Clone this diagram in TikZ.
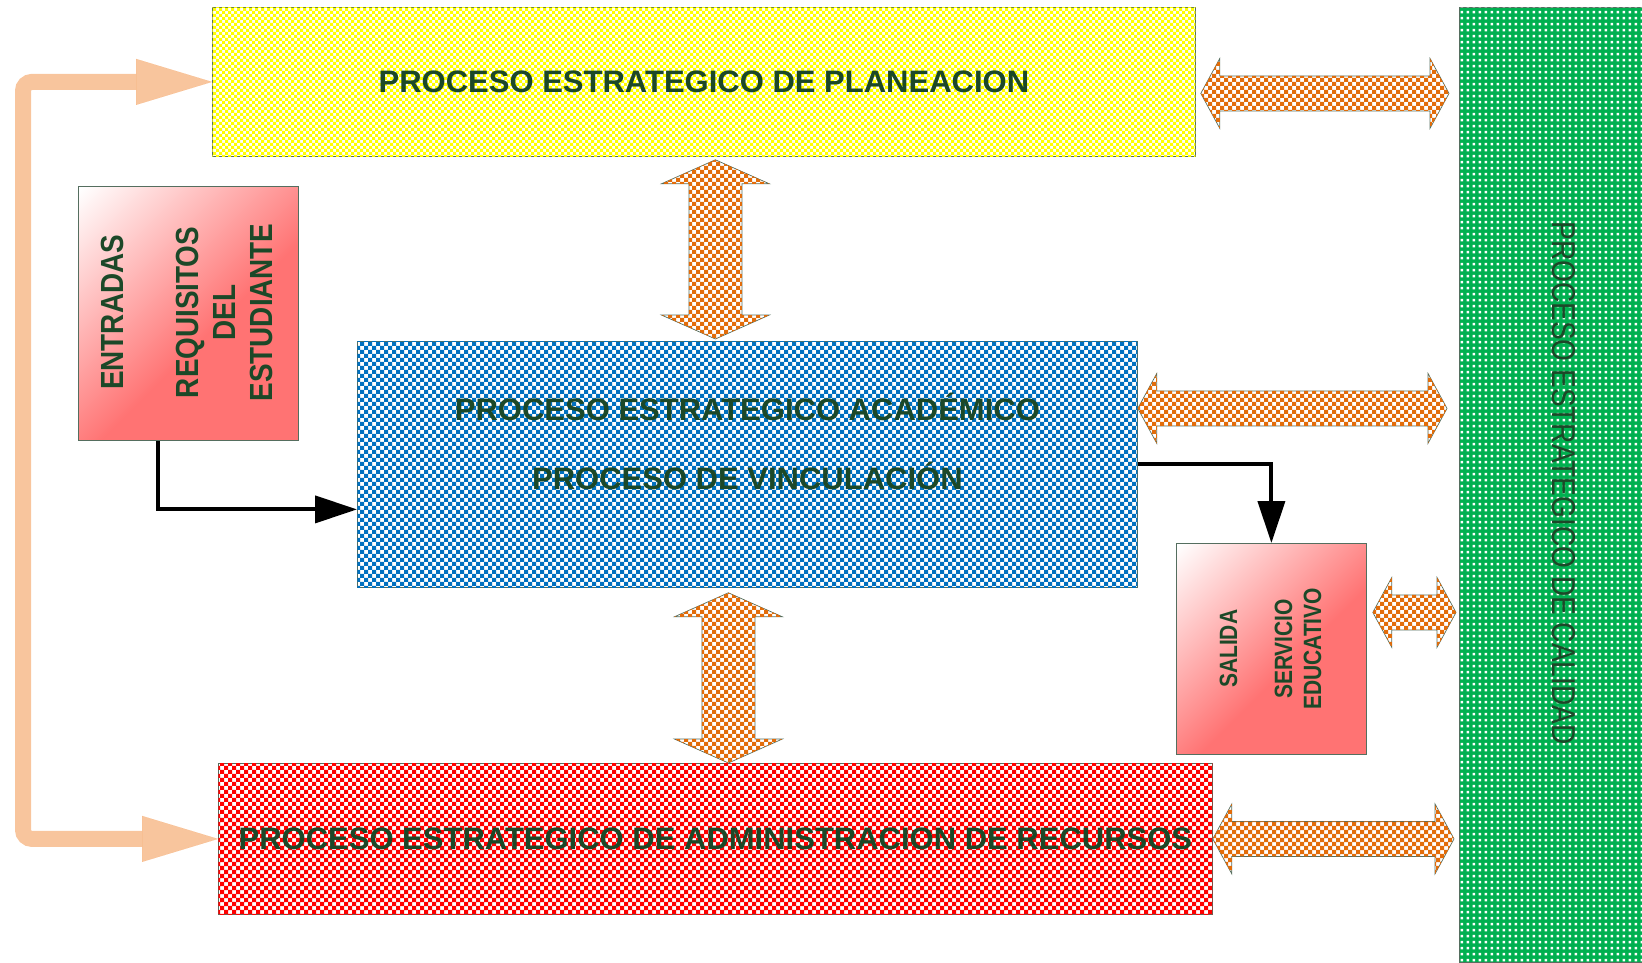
\documentclass[tikz,border=0pt]{standalone}
\usepackage{fontspec}
\setmainfont{Liberation Sans}
\newfontfamily\narrowfont[FakeStretch=0.87]{Liberation Sans}
\newfontfamily\slimfont[FakeStretch=0.84]{Liberation Sans}
\newfontfamily\condfont[FakeStretch=0.85]{Liberation Sans}
\usetikzlibrary{arrows.meta,patterns,calc}

\definecolor{txtgreen}{RGB}{28,72,40}
\definecolor{edgegray}{RGB}{85,110,95}
\definecolor{planyellow}{RGB}{255,255,0}
\definecolor{acadblue}{RGB}{0,112,192}
\definecolor{recred}{RGB}{255,0,0}
\definecolor{calgreen}{RGB}{0,176,80}
\definecolor{linkorange}{RGB}{226,108,10}
\definecolor{salmon}{RGB}{255,115,115}
\definecolor{loopcolor}{RGB}{241,140,60}

\pgfdeclarepatternformonly{smallcheck}{\pgfqpoint{-1pt}{-1pt}}{\pgfqpoint{7pt}{7pt}}{\pgfqpoint{6pt}{6pt}}{%
  \pgfpathrectangle{\pgfqpoint{0pt}{0pt}}{\pgfqpoint{3.05pt}{3.05pt}}%
  \pgfpathrectangle{\pgfqpoint{3pt}{3pt}}{\pgfqpoint{3.05pt}{3.05pt}}%
  \pgfusepath{fill}}
\pgfdeclarepatternformonly{bigcheck}{\pgfqpoint{-1pt}{-1pt}}{\pgfqpoint{9pt}{9pt}}{\pgfqpoint{8pt}{8pt}}{%
  \pgfpathrectangle{\pgfqpoint{0pt}{0pt}}{\pgfqpoint{4.05pt}{4.05pt}}%
  \pgfpathrectangle{\pgfqpoint{4pt}{4pt}}{\pgfqpoint{4.05pt}{4.05pt}}%
  \pgfusepath{fill}}
\pgfdeclarepatternformonly{whitedots}{\pgfqpoint{0pt}{0pt}}{\pgfqpoint{6.4pt}{6.4pt}}{\pgfqpoint{6.4pt}{6.4pt}}{%
  \pgfpathrectangle{\pgfqpoint{1.8pt}{1.8pt}}{\pgfqpoint{2.8pt}{2.8pt}}%
  \pgfusepath{fill}}
\pgfdeclareverticalshading{pinkfade}{100bp}{color(0bp)=(salmon); color(44bp)=(salmon); color(85bp)=(white); color(100bp)=(white)}

\tikzset{
  procbox/.style={draw=edgegray, line width=0.8pt, anchor=north west, inner sep=0pt},
  fadebox/.style={procbox, shade, shading=pinkfade, shading angle=45},
  ptitle/.style={text=txtgreen, font=\fontsize{31}{37}\selectfont\bfseries, align=center},
  vtitle/.style={text=txtgreen, font=\narrowfont\fontsize{32}{37}\selectfont\bfseries, rotate=90, align=center},
  vsmall/.style={text=txtgreen, font=\slimfont\fontsize{25}{29}\selectfont\bfseries, rotate=90, align=center},
  link/.style={draw=edgegray, line width=0.7pt, fill=white, postaction={pattern=bigcheck, pattern color=linkorange}},
  flow/.style={line width=4pt, -{Triangle[length=42pt,width=27pt]}},
  feedback/.style={draw=loopcolor, opacity=0.5, line width=16pt, rounded corners=9pt,
    {Triangle[length=76pt,width=46pt,line width=0.01pt]}-{Triangle[length=76pt,width=46pt,line width=0.01pt]}}
}

\newcommand{\hlink}[2]{%
  \draw[link] let \p1=#1, \p2=#2 in
    (\x1,\y1) -- (\x1+19pt,\y1+35pt) -- (\x1+19pt,\y1+17.5pt) -- (\x2-19pt,\y1+17.5pt)
    -- (\x2-19pt,\y1+35pt) -- (\x2,\y1) -- (\x2-19pt,\y1-35pt) -- (\x2-19pt,\y1-17.5pt)
    -- (\x1+19pt,\y1-17.5pt) -- (\x1+19pt,\y1-35pt) -- cycle;}
\newcommand{\vlink}[2]{%
  \draw[link] let \p1=#1, \p2=#2 in
    (\x1,\y1) -- (\x1+54pt,\y1-24pt) -- (\x1+26.5pt,\y1-24pt) -- (\x1+26.5pt,\y2+24pt)
    -- (\x1+54pt,\y2+24pt) -- (\x1,\y2) -- (\x1-54pt,\y2+24pt) -- (\x1-26.5pt,\y2+24pt)
    -- (\x1-26.5pt,\y1-24pt) -- (\x1-54pt,\y1-24pt) -- cycle;}

\begin{document}
\begin{tikzpicture}[x=1pt, y=-1pt]
\useasboundingbox (0,0) rectangle (1642,962);

\node[procbox, ptitle, fill=white, postaction={pattern=smallcheck, pattern color=planyellow},
  minimum width=983pt, minimum height=149pt] (plan) at (212,7) {PROCESO ESTRATEGICO DE PLANEACION};
\node[procbox, fill=white, postaction={pattern=bigcheck, pattern color=acadblue},
  minimum width=780pt, minimum height=246pt] (acad) at (357,341) {};
\node[ptitle] (acadtxt) at ([yshift=22.5pt]acad.center)
  {PROCESO ESTRATEGICO ACADÉMICO\\[32pt]PROCESO DE VINCULACIÓN};
\node[procbox, ptitle, fill=white, postaction={pattern=bigcheck, pattern color=recred},
  minimum width=994pt, minimum height=151pt] (recursos) at (218,763)
  {PROCESO ESTRATEGICO DE ADMINISTRACION DE RECURSOS};
\node[procbox, fill=calgreen, postaction={pattern=whitedots, pattern color=white},
  minimum width=183pt, minimum height=955pt] (calidad) at (1459,7) {};
\node[text=txtgreen, font=\condfont\fontsize{33}{40}\selectfont, rotate=-90] (calidadtxt)
  at ([xshift=12.5pt,yshift=2pt]calidad.center) {PROCESO ESTRATEGICO DE CALIDAD};

\node[fadebox, minimum width=220pt, minimum height=254pt] (entradas) at (78,186) {};
\node[vtitle] (entradastxt) at ([xshift=-76pt,yshift=1pt]entradas.center) {ENTRADAS};
\node[vtitle] (requisitos) at ([xshift=36pt,yshift=1pt]entradas.center) {REQUISITOS\\DEL\\ESTUDIANTE};
\node[fadebox, minimum width=190pt, minimum height=211pt] (salida) at (1176,543) {};
\node[vsmall] (salidatxt) at ([xshift=-43pt]salida.center) {SALIDA};
\node[vsmall] (servicio) at ([xshift=26.5pt]salida.center) {SERVICIO\\EDUCATIVO};

\vlink{([xshift=11.5pt,yshift=-3pt]plan.south)}{([yshift=2pt]acad.north)}
\vlink{([xshift=-19pt,yshift=-5pt]acad.south)}{(recursos.north)}
\hlink{([xshift=5pt,yshift=-11.5pt]plan.east)}{([xshift=-10pt]calidad.west)}
\hlink{([yshift=56pt]acad.east)}{([xshift=-12pt]calidad.west)}
\hlink{([xshift=6pt,yshift=36.5pt]salida.east)}{([xshift=-3pt]calidad.west)}
\hlink{(recursos.east)}{([xshift=-5pt]calidad.west)}

\draw[flow] ([xshift=-30pt]entradas.south) |- ([yshift=-45pt]acad.west);
\draw[flow] (acad.east) -| (salida.north);

\coordinate (loopx) at (23,0);
\draw[feedback] (plan.west) -- (plan.west -| loopx) |- (recursos.west);
\end{tikzpicture}
\end{document}
